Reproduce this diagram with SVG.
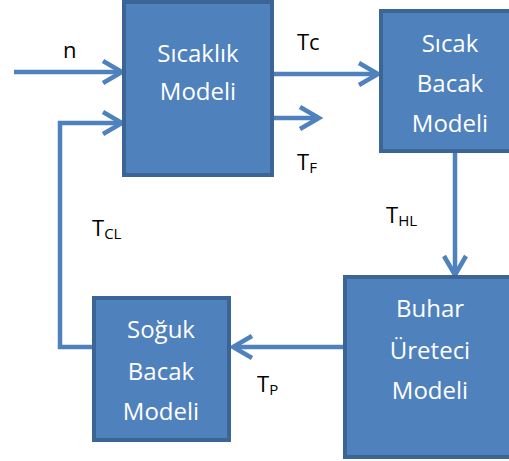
<svg xmlns="http://www.w3.org/2000/svg" width="509" height="461" viewBox="0 0 509 461">
<style>
.box{fill:#4F81BD;stroke:#3A6594;stroke-width:4}
.bt{fill:#fff;font-family:"Open Sans",sans-serif;font-size:24px;text-anchor:middle}
.lbl{fill:#000;font-family:"Open Sans",sans-serif;font-size:22px}
.sub{font-size:15px}
.con{fill:none;stroke:#4F81BD;stroke-width:4.5;stroke-linejoin:miter}
</style>
<defs>
<marker id="ah" markerUnits="userSpaceOnUse" viewBox="-22 -14 26 28" refX="0" refY="0" markerWidth="26" markerHeight="28" orient="auto">
<path d="M-19,-11 L0,0 L-19,11" fill="none" stroke="#4F81BD" stroke-width="4.5"/>
</marker>
</defs>
<g id="connectors">
<path class="con" d="M14,72 H122" marker-end="url(#ah)"/>
<path class="con" d="M95,347 H60 V123 H122" marker-end="url(#ah)"/>
<path class="con" d="M272,74 H378" marker-end="url(#ah)"/>
<path class="con" d="M272,118 H319" marker-end="url(#ah)"/>
<path class="con" d="M455,151 V275" marker-end="url(#ah)"/>
<path class="con" d="M344,347 H233" marker-end="url(#ah)"/>
</g>
<g id="sicaklik">
<rect class="box" x="124" y="2" width="148" height="173"/>
<text class="bt" x="198" y="62">Sıcaklık</text>
<text class="bt" x="198" y="100">Modeli</text>
</g>
<g id="sicak-bacak">
<rect class="box" x="381" y="11" width="132" height="140"/>
<text class="bt" x="450" y="52">Sıcak</text>
<text class="bt" x="450" y="92">Bacak</text>
<text class="bt" x="450" y="132">Modeli</text>
</g>
<g id="buhar">
<rect class="box" x="345" y="277" width="168" height="180"/>
<text class="bt" x="430" y="317">Buhar</text>
<text class="bt" x="430" y="359">Üreteci</text>
<text class="bt" x="430" y="399">Modeli</text>
</g>
<g id="soguk">
<rect class="box" x="94" y="298" width="135" height="142"/>
<text class="bt" x="161" y="338">Soğuk</text>
<text class="bt" x="161" y="380">Bacak</text>
<text class="bt" x="161" y="420">Modeli</text>
</g>
<g id="labels">
<text class="lbl" x="63" y="58">n</text>
<text class="lbl" x="297" y="50">Tc</text>
<text class="lbl" x="297" y="170">T<tspan class="sub" dy="3">F</tspan></text>
<text class="lbl" x="386" y="223">T<tspan class="sub" dy="3">HL</tspan></text>
<text class="lbl" x="92" y="236">T<tspan class="sub" dy="3">CL</tspan></text>
<text class="lbl" x="257" y="392">T<tspan class="sub" dy="3">P</tspan></text>
</g>
</svg>
